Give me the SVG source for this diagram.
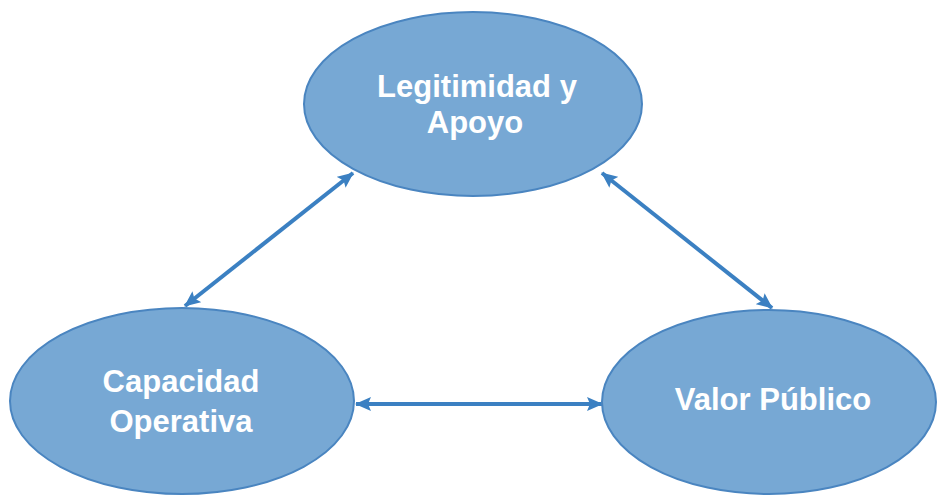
<svg xmlns="http://www.w3.org/2000/svg" width="938" height="496" viewBox="0 0 938 496">
<style>
.node ellipse{fill:#77a8d4;stroke:#4a85c0;stroke-width:2}
.node text{font-family:"Liberation Sans",Arial,sans-serif;font-weight:bold;font-size:31px;fill:#ffffff;text-anchor:middle}
.edge{stroke:#3b80c2;stroke-width:4;fill:none;marker-start:url(#ah);marker-end:url(#ah)}
</style>
<defs>
<marker id="ah" markerUnits="userSpaceOnUse" markerWidth="16" markerHeight="14" refX="15" refY="7" orient="auto-start-reverse">
<path d="M0,0 L16,7 L0,14 L3,7 Z" fill="#3b80c2"/>
</marker>
</defs>
<rect width="938" height="496" fill="#ffffff"/>
<g id="connectors">
<line class="edge" x1="185" y1="306" x2="353" y2="173"/>
<line class="edge" x1="602" y1="173" x2="772" y2="308"/>
<line class="edge" x1="356" y1="404" x2="602" y2="404"/>
</g>
<g id="legitimidad" class="node">
<ellipse cx="473" cy="104" rx="169" ry="92"/>
<text x="477" y="97">Legitimidad y</text>
<text x="475" y="133">Apoyo</text>
</g>
<g id="capacidad" class="node">
<ellipse cx="182" cy="401" rx="172" ry="93"/>
<text x="181" y="392">Capacidad</text>
<text x="181" y="432">Operativa</text>
</g>
<g id="valor" class="node">
<ellipse cx="769" cy="402" rx="167" ry="92"/>
<text x="773" y="410">Valor Público</text>
</g>
</svg>
